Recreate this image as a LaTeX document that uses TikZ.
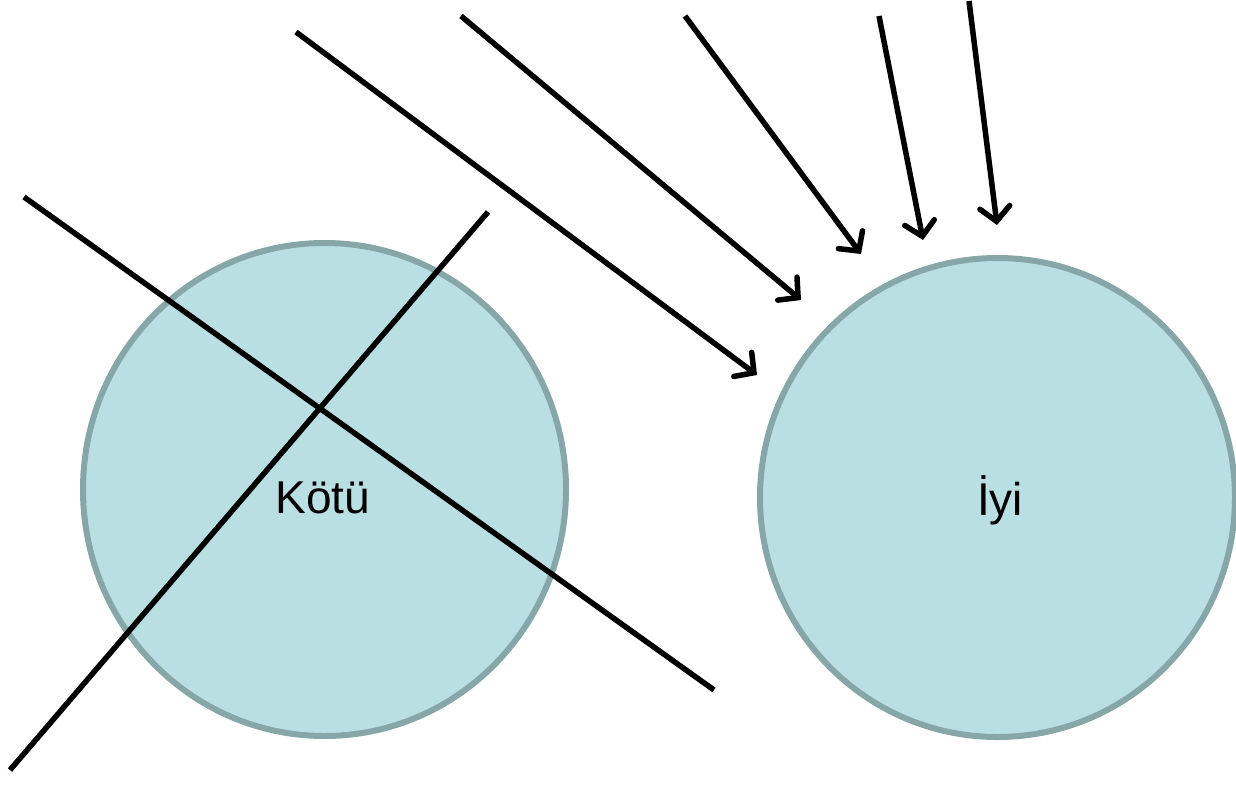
\documentclass[tikz,border=0pt]{standalone}
\usepackage{fontspec}
\setmainfont{Liberation Sans}
\usetikzlibrary{shapes.geometric,arrows.meta}
\definecolor{circfill}{HTML}{B9DFE3}
\definecolor{circline}{HTML}{86A6A8}
\newcommand{\bigfont}{\fontsize{46}{55}\selectfont}
\tikzset{
  blob/.style={ellipse, draw=circline, fill=circfill, line width=6pt, inner sep=0pt},
  cross/.style={draw=black, line width=5.5pt},
  ray/.style={draw=black, line width=5.5pt, -{Straight Barb[length=14pt,width=30pt,line cap=round]}},
  lbl/.style={anchor=base, font=\bigfont, text=black, inner sep=0pt}
}
\begin{document}
\begin{tikzpicture}[x=1pt,y=-1pt]
\useasboundingbox (0,0) rectangle (1236,787);
% circles
\node[blob, minimum width=483pt, minimum height=493pt] (bad) at (324.5,489.5) {};
\node[blob, minimum width=475pt, minimum height=479pt] (good) at (997.5,497.5) {};
% labels
\node[lbl] (badtxt) at (323,513) {Kötü};
\node[lbl] (goodtxt) at (1000,515) {İyi};
% crossing lines
\coordinate (c1a) at (24,197);
\coordinate (c1b) at (714,690);
\coordinate (c2a) at (488,212);
\coordinate (c2b) at (10,770);
\draw[cross] (c1a) -- (c1b);
\draw[cross] (c2a) -- (c2b);
% rays
\coordinate (r1s) at (296,32);  \coordinate (r1e) at (757,375);
\coordinate (r2s) at (461,16);  \coordinate (r2e) at (801,300);
\coordinate (r3s) at (685,16);  \coordinate (r3e) at (861,254);
\coordinate (r4s) at (879,16);  \coordinate (r4e) at (923,240);
\coordinate (r5s) at (969,1);   \coordinate (r5e) at (997,225);
\draw[ray] (r1s) -- (r1e);
\draw[ray] (r2s) -- (r2e);
\draw[ray] (r3s) -- (r3e);
\draw[ray] (r4s) -- (r4e);
\draw[ray] (r5s) -- (r5e);
\end{tikzpicture}
\end{document}
